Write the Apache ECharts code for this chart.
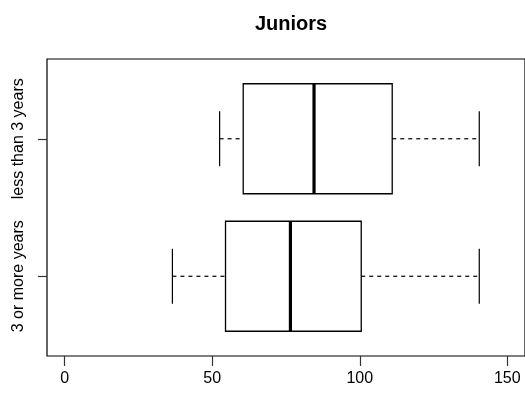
<!DOCTYPE html>
<html>
<head>
<meta charset="utf-8">
<script src="https://cdn.jsdelivr.net/npm/echarts@6/dist/echarts.min.js"></script>
<style>
  html, body { margin: 0; padding: 0; background: #fff; }
  #chart { width: 525px; height: 402px; }
</style>
</head>
<body>
<div id="chart"></div>
<script>
// Group names, bottom to top
const groups = ['3 or more years', 'less than 3 years'];
// Five-number summaries per group
const lowerWhisker = [36.5, 52.5];
const q1 = [54.5, 60.5];
const median = [76.5, 84.5];
const q3 = [100.5, 111];
const upperWhisker = [140.5, 140.5];
// Axis tick values
const xTicks = [0, 50, 100, 150];
const yTicks = [1, 2];

const FONT = '"Liberation Sans", Arial, sans-serif';
const BOX_WIDTH = 0.8;     // box thickness in axis units
const STAPLE_WIDTH = 0.4;  // whisker cap length in axis units

const data = groups.map((g, i) => [i + 1, lowerWhisker[i], q1[i], median[i], q3[i], upperWhisker[i]]);

function renderBox(params, api) {
  const pos = api.value(0);
  const lo = api.value(1), a = api.value(2), m = api.value(3), b = api.value(4), hi = api.value(5);
  const half = api.size([0, BOX_WIDTH])[1] / 2;
  const capHalf = api.size([0, STAPLE_WIDTH])[1] / 2;
  const c = api.coord([0, pos])[1];
  const x = v => api.coord([v, pos])[0];
  const dashed = { stroke: '#000', lineWidth: 1.2, lineDash: [4, 4] };
  return {
    type: 'group',
    children: [
      { type: 'line', shape: { x1: x(lo), y1: c, x2: x(a), y2: c }, style: dashed },
      { type: 'line', shape: { x1: x(b), y1: c, x2: x(hi), y2: c }, style: dashed },
      { type: 'line', shape: { x1: x(lo), y1: c - capHalf, x2: x(lo), y2: c + capHalf }, style: { stroke: '#000', lineWidth: 1.2 } },
      { type: 'line', shape: { x1: x(hi), y1: c - capHalf, x2: x(hi), y2: c + capHalf }, style: { stroke: '#000', lineWidth: 1.2 } },
      { type: 'rect', shape: { x: x(a), y: c - half, width: x(b) - x(a), height: 2 * half }, style: { fill: '#fff', stroke: '#000', lineWidth: 1.3 } },
      { type: 'line', shape: { x1: x(m), y1: c - half, x2: x(m), y2: c + half }, style: { stroke: '#000', lineWidth: 3.2 } }
    ]
  };
}

const chart = echarts.init(document.getElementById('chart'), null, { renderer: 'canvas' });
chart.setOption({
  backgroundColor: '#fff',
  animation: false,
  title: {
    text: 'Juniors',
    left: 250,
    top: 9,
    textStyle: { fontFamily: FONT, fontSize: 20, fontWeight: 'bold', color: '#000' }
  },
  grid: {
    left: 47, top: 59, right: -2, bottom: 46,
    show: true, borderColor: '#000', borderWidth: 1.2, backgroundColor: '#fff'
  },
  xAxis: {
    type: 'value', min: -6, max: 156,
    splitLine: { show: false },
    axisLine: { show: false, onZero: false },
    axisTick: { show: true, customValues: xTicks, length: 10, lineStyle: { color: '#333', width: 1.2 } },
    axisLabel: { customValues: xTicks, margin: 15, fontFamily: FONT, fontSize: 16, color: '#000' }
  },
  yAxis: {
    type: 'value', min: 0.42, max: 2.58,
    splitLine: { show: false },
    axisLine: { show: false, onZero: false },
    axisTick: { show: true, customValues: yTicks, length: 9, lineStyle: { color: '#333', width: 1.2 } },
    axisLabel: {
      customValues: yTicks, rotate: 90, margin: 20,
      fontFamily: FONT, fontSize: 16, color: '#000',
      formatter: v => groups[Math.round(v) - 1] || ''
    }
  },
  series: [{
    type: 'custom',
    renderItem: renderBox,
    encode: { x: [1, 2, 3, 4, 5], y: 0 },
    data: data
  }]
});
</script>
</body>
</html>
